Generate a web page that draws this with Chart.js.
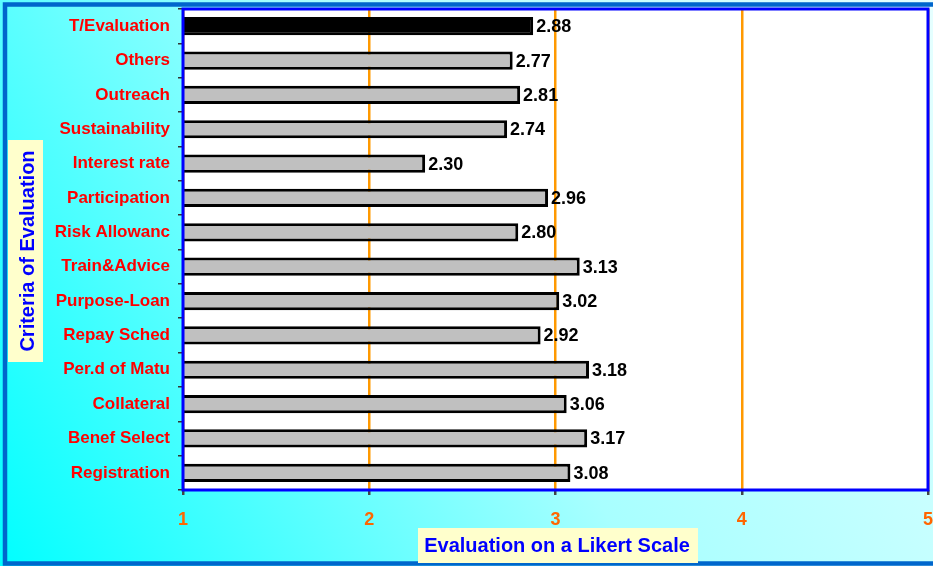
<!DOCTYPE html>
<html>
<head>
<meta charset="utf-8">
<script src="https://cdn.jsdelivr.net/npm/chart.js@4.4.1/dist/chart.umd.min.js"></script>
<style>
  html, body { margin: 0; padding: 0; background: #ffffff; }
  #wrap { width: 933px; height: 566px; position: relative; }
</style>
</head>
<body>
<div id="wrap"><canvas id="c" width="933" height="566"></canvas></div>
<script>
const categories = ["T/Evaluation", "Others", "Outreach", "Sustainability", "Interest rate",
  "Participation", "Risk Allowanc", "Train&Advice", "Purpose-Loan", "Repay Sched",
  "Per.d of Matu", "Collateral", "Benef Select", "Registration"];
const scores = [2.88, 2.77, 2.81, 2.74, 2.30, 2.96, 2.80, 3.13, 3.02, 2.92, 3.18, 3.06, 3.17, 3.08];
const xTicks = [1, 2, 3, 4, 5];
const xTitle = "Evaluation on a Likert Scale";
const yTitle = "Criteria of Evaluation";

const FONT = "'Liberation Sans', Arial, sans-serif";

const frame = {
  id: 'frame',
  beforeDraw(chart) {
    const ctx = chart.ctx;
    ctx.save();
    const g = ctx.createLinearGradient(0, 566, 933, 0);
    g.addColorStop(0, '#00FFFF');
    g.addColorStop(0.5, '#A8FFFF');
    g.addColorStop(1, '#E6FFFF');
    ctx.fillStyle = g;
    ctx.fillRect(0, 0, 933, 566);
    // outer border
    ctx.strokeStyle = '#0066CC';
    ctx.lineWidth = 4.5;
    ctx.strokeRect(5, 4.5, 940, 559);
    // plot area white
    const a = chart.chartArea;
    ctx.fillStyle = '#FFFFFF';
    ctx.fillRect(a.left, a.top, a.right - a.left, a.bottom - a.top);
    ctx.restore();
  },
  afterDatasetsDraw(chart) {
    const ctx = chart.ctx;
    const a = chart.chartArea;
    ctx.save();
    // value labels
    const meta = chart.getDatasetMeta(0);
    ctx.font = "bold 18px " + FONT;
    ctx.fillStyle = '#000000';
    ctx.textBaseline = 'middle';
    ctx.textAlign = 'left';
    meta.data.forEach((bar, i) => {
      ctx.fillText(scores[i].toFixed(2), bar.x + 3, bar.y + 1);
    });
    // plot border
    ctx.strokeStyle = '#0000FF';
    ctx.lineWidth = 3;
    ctx.strokeRect(a.left, a.top, a.right - a.left, a.bottom - a.top);
    // y title box
    ctx.fillStyle = '#FFFFCC';
    ctx.fillRect(8, 140, 35, 222);
    ctx.save();
    ctx.translate(27, 251);
    ctx.rotate(-Math.PI / 2);
    ctx.font = "bold 20px " + FONT;
    ctx.fillStyle = '#0000FF';
    ctx.textAlign = 'center';
    ctx.textBaseline = 'middle';
    ctx.fillText(yTitle, 0, 1);
    ctx.restore();
    // x title box
    ctx.fillStyle = '#FFFFCC';
    ctx.fillRect(418, 528, 280, 35);
    ctx.font = "bold 20px " + FONT;
    ctx.fillStyle = '#0000FF';
    ctx.textAlign = 'center';
    ctx.textBaseline = 'middle';
    ctx.fillText(xTitle, 557, 546);
    ctx.restore();
  }
};

new Chart(document.getElementById('c'), {
  type: 'bar',
  data: {
    labels: categories,
    datasets: [{
      data: scores,
      backgroundColor: scores.map((v, i) => i === 0 ? '#000000' : '#C0C0C0'),
      borderColor: '#000000',
      borderWidth: 3,
      borderSkipped: false,
      barPercentage: 0.53,
      categoryPercentage: 1.0
    }]
  },
  options: {
    indexAxis: 'y',
    responsive: false,
    animation: false,
    devicePixelRatio: 1,
    layout: { padding: { top: 9, right: 5, left: 0, bottom: 0 } },
    plugins: { legend: { display: false }, tooltip: { enabled: false }, title: { display: false } },
    scales: {
      x: {
        type: 'linear',
        min: 1, max: 5,
        afterBuildTicks(scale) { scale.ticks = xTicks.map(v => ({ value: v })); },
        afterFit(scale) { scale.height = 76; scale.paddingLeft = 0; scale.paddingRight = 0; },
        border: { display: false },
        grid: { color: '#FF9900', lineWidth: 2.5, tickColor: '#444444', tickLength: 5, drawTicks: true },
        ticks: {
          color: '#FF6600',
          font: { family: FONT, size: 18, weight: 'bold' },
          padding: 14,
          callback: v => String(v)
        }
      },
      y: {
        afterFit(scale) { scale.width = 183; scale.paddingTop = 0; scale.paddingBottom = 0; },
        border: { display: false },
        grid: { drawOnChartArea: false, tickLength: 5, color: '#333333', lineWidth: 1.5, offset: true },
        ticks: {
          color: '#FF0000',
          font: { family: FONT, size: 17, weight: 'bold' },
          padding: 8
        }
      }
    }
  },
  plugins: [frame]
});
</script>
</body>
</html>
